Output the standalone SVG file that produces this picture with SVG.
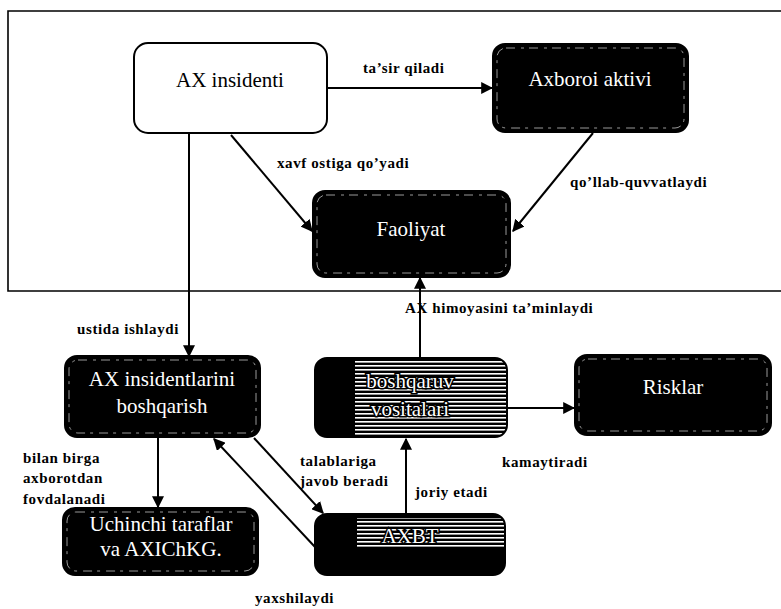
<svg xmlns="http://www.w3.org/2000/svg" width="781" height="609" viewBox="0 0 781 609">
  <style>
    .lbl { font-family: "Liberation Serif", "DejaVu Serif", "Noto Serif", serif; font-weight: bold; font-size: 15px; letter-spacing: 0.6px; fill: #000; }
    .ntxt { font-family: "Liberation Serif", "DejaVu Serif", "Noto Serif", serif; font-size: 21px; fill: #fff; text-anchor: middle; }
    .btxt { font-family: "Liberation Serif", "DejaVu Serif", "Noto Serif", serif; font-size: 21px; fill: #000; text-anchor: middle; }
    .dark { fill: #000; stroke: #000; stroke-width: 2; }
    .inner { fill: none; stroke: #fff; stroke-width: 1; stroke-dasharray: 9 6 3 5; opacity: 0.6; }
    .edge { stroke: #000; stroke-width: 2; fill: none; marker-end: url(#arr); }
    .outline { paint-order: stroke; stroke: #000; stroke-width: 3; }
  </style>
  <defs>
    <marker id="arr" viewBox="0 0 10 10" refX="9" refY="5" markerWidth="6" markerHeight="6" orient="auto" markerUnits="strokeWidth">
      <path d="M0,0 L10,5 L0,10 z" fill="#000"/>
    </marker>
    <pattern id="stripes" width="6" height="4" patternUnits="userSpaceOnUse">
      <rect width="6" height="4" fill="#000"/>
      <rect y="1" width="6" height="1.6" fill="#fff"/>
    </pattern>
    <clipPath id="clipBV"><rect x="315" y="358" width="192" height="79" rx="12"/></clipPath>
    <clipPath id="clipBT"><rect x="315" y="514" width="190" height="61" rx="12"/></clipPath>
  </defs>

  <rect width="781" height="609" fill="#fff"/>

  <!-- frame around the upper part -->
  <path d="M790,11 H8 V291 H790" fill="none" stroke="#000" stroke-width="1.6"/>

  <!-- connectors -->
  <g id="connectors">
    <line class="edge" x1="328" y1="88" x2="492" y2="88"/>
    <line class="edge" x1="231" y1="135" x2="312" y2="231"/>
    <line class="edge" x1="593" y1="133" x2="513" y2="231"/>
    <line class="edge" x1="189" y1="134" x2="189" y2="356"/>
    <line class="edge" x1="420" y1="357" x2="420" y2="278"/>
    <line class="edge" x1="507" y1="408" x2="574" y2="408"/>
    <line class="edge" x1="158" y1="437" x2="158" y2="507"/>
    <line class="edge" x1="254" y1="438" x2="323" y2="513"/>
    <line class="edge" x1="315" y1="547" x2="214" y2="439"/>
    <line class="edge" x1="406" y1="513" x2="406" y2="439"/>
  </g>

  <!-- connector labels -->
  <g id="labels">
    <text class="lbl" x="363" y="73">ta’sir qiladi</text>
    <text class="lbl" x="277" y="168">xavf ostiga qo’yadi</text>
    <text class="lbl" x="570" y="187">qo’llab-quvvatlaydi</text>
    <text class="lbl" x="405" y="313">AX himoyasini ta’minlaydi</text>
    <text class="lbl" x="77" y="334">ustida ishlaydi</text>
    <text class="lbl" x="23" y="463">bilan birga</text>
    <text class="lbl" x="23" y="483">axborotdan</text>
    <text class="lbl" x="23" y="504">fovdalanadi</text>
    <text class="lbl" x="300" y="466">talablariga</text>
    <text class="lbl" x="300" y="486">javob beradi</text>
    <text class="lbl" x="415" y="497">joriy etadi</text>
    <text class="lbl" x="502" y="467">kamaytiradi</text>
    <text class="lbl" x="255" y="603">yaxshilaydi</text>
  </g>

  <g id="ax-insidenti">
    <rect x="134" y="43" width="193" height="90" rx="14" fill="#fff" stroke="#000" stroke-width="2"/>
    <text class="btxt" x="230" y="87">AX insidenti</text>
  </g>

  <g id="axboroi-aktivi">
    <rect class="dark" x="493" y="44" width="195" height="88" rx="12"/>
    <rect class="inner" x="497" y="48" width="187" height="80" rx="9"/>
    <text class="ntxt" x="590" y="86">Axboroi aktivi</text>
  </g>

  <g id="faoliyat">
    <rect class="dark" x="313" y="191" width="197" height="86" rx="12"/>
    <rect class="inner" x="317" y="195" width="189" height="78" rx="9"/>
    <text class="ntxt" x="411" y="236">Faoliyat</text>
  </g>

  <g id="ax-insidentlarini-boshqarish">
    <rect class="dark" x="65" y="356" width="195" height="81" rx="12"/>
    <rect class="inner" x="69" y="360" width="187" height="73" rx="9"/>
    <text class="ntxt" x="162" y="386">AX insidentlarini</text>
    <text class="ntxt" x="162" y="413">boshqarish</text>
  </g>

  <g id="boshqaruv-vositalari">
    <g clip-path="url(#clipBV)">
      <rect x="315" y="358" width="192" height="79" fill="url(#stripes)"/>
      <rect x="315" y="358" width="40" height="79" fill="#000"/>
    </g>
    <rect x="315" y="358" width="192" height="79" rx="12" fill="none" stroke="#000" stroke-width="2"/>
    <text class="ntxt outline" x="410" y="388">boshqaruv</text>
    <text class="ntxt outline" x="410" y="416">vositalari</text>
  </g>

  <g id="risklar">
    <rect class="dark" x="575" y="355" width="196" height="80" rx="12"/>
    <rect class="inner" x="579" y="359" width="188" height="72" rx="9"/>
    <text class="ntxt" x="673" y="394">Risklar</text>
  </g>

  <g id="uchinchi-taraflar">
    <rect class="dark" x="63" y="508" width="195" height="67" rx="12"/>
    <rect class="inner" x="67" y="512" width="187" height="59" rx="9"/>
    <text class="ntxt" x="161" y="531">Uchinchi taraflar</text>
    <text class="ntxt" x="161" y="556">va AXIChKG.</text>
  </g>

  <g id="axbt">
    <g clip-path="url(#clipBT)">
      <rect x="315" y="514" width="190" height="61" fill="#000"/>
      <rect x="357" y="518" width="148" height="30" fill="url(#stripes)"/>
    </g>
    <rect x="315" y="514" width="190" height="61" rx="12" fill="none" stroke="#000" stroke-width="2"/>
    <text class="ntxt outline" x="410" y="543">AXBT</text>
  </g>
</svg>
